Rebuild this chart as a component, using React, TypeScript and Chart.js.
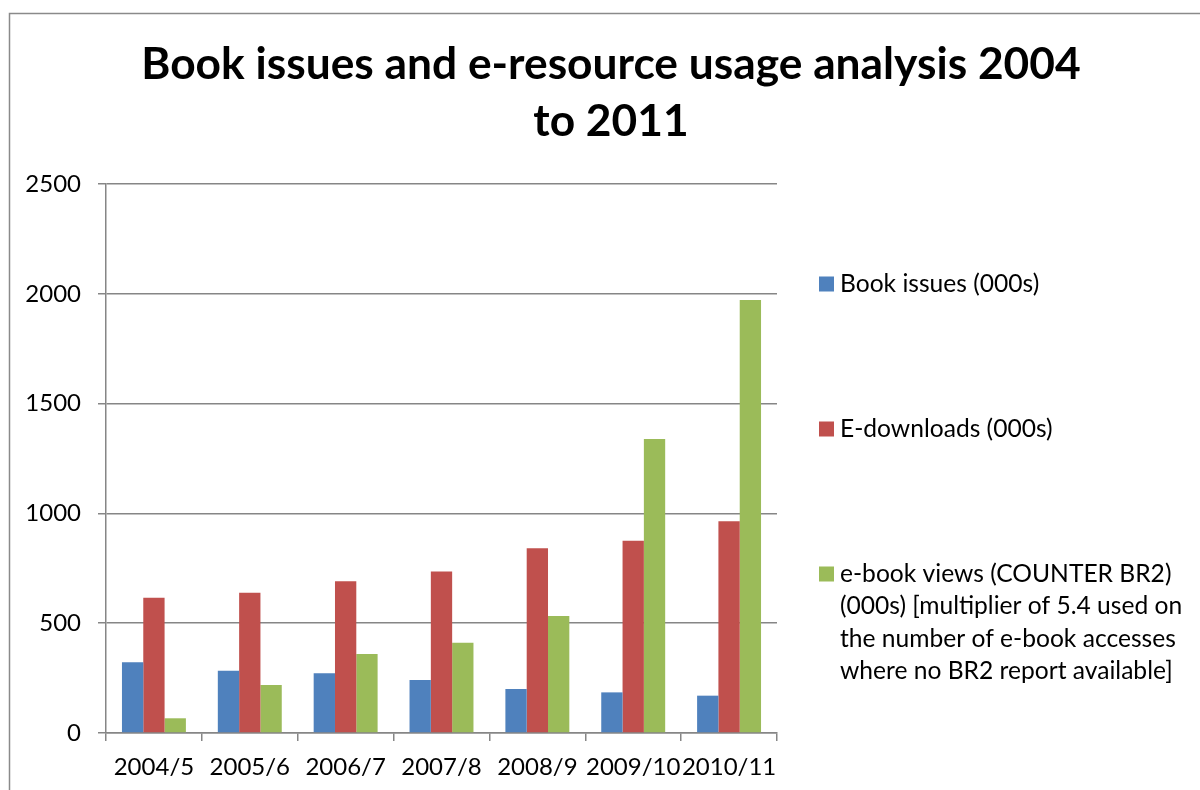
import { useEffect, useRef } from "react";
import { Chart, registerables } from "chart.js";

Chart.register(...registerables);

const CATEGORIES = ["2004/5", "2005/6", "2006/7", "2007/8", "2008/9", "2009/10", "2010/11"];
const BOOK_ISSUES = [322, 284, 272, 241, 200, 185, 170];
const E_DOWNLOADS = [616, 639, 691, 735, 841, 876, 964];
const EBOOK_VIEWS = [67, 219, 360, 411, 533, 1339, 1972];

const TITLE_LINES = ["Book issues and e-resource usage analysis 2004", "to 2011"];
const LEGEND_LINES = [
  ["Book issues (000s)"],
  ["E-downloads (000s)"],
  [
    "e-book views (COUNTER BR2)",
    "(000s) [multiplier of 5.4 used on",
    "the number of e-book accesses",
    "where no BR2 report available]",
  ],
];
const COLORS = ["#4F81BD", "#C0504D", "#9BBB59"];
const Y_MIN = 0;
const Y_MAX = 2500;
const Y_STEP = 500;

const FONT_FAMILY = "Lato, 'Open Sans', sans-serif";
const TICK_FONT_SIZE = 24;
const LEGEND_FONT_SIZE = 24.6;
const GRID_COLOR = "#868686";

const decorPlugin = {
  id: "decor",
  beforeDraw(chart: any) {
    const ctx = chart.ctx as CanvasRenderingContext2D;
    ctx.save();
    ctx.fillStyle = "#ffffff";
    ctx.fillRect(0, 0, chart.width, chart.height);
    ctx.strokeStyle = "#8a8a8a";
    ctx.lineWidth = 1.5;
    ctx.strokeRect(9.5, 13.5, 1400, 1000);
    ctx.restore();
  },
  afterDraw(chart: any) {
    const ctx = chart.ctx as CanvasRenderingContext2D;
    ctx.save();
    // Title
    ctx.fillStyle = "#000000";
    ctx.font = `bold 44.3px ${FONT_FAMILY}`;
    ctx.textAlign = "center";
    ctx.textBaseline = "alphabetic";
    TITLE_LINES.forEach((line, i) => {
      ctx.fillText(line, 611, 79 + i * 57);
    });
    // Legend
    ctx.font = `${LEGEND_FONT_SIZE}px ${FONT_FAMILY}`;
    ctx.textAlign = "left";
    ctx.textBaseline = "middle";
    const datasets = chart.data.datasets;
    datasets.forEach((ds: any, i: number) => {
      const cy = 284 + i * 145;
      ctx.fillStyle = ds.backgroundColor;
      ctx.fillRect(819, cy - 7.5, 15, 15);
      ctx.fillStyle = "#000000";
      LEGEND_LINES[i].forEach((line, j) => {
        ctx.fillText(line, 840, cy + j * 32.5);
      });
    });
    ctx.restore();
  },
};

export default function App() {
  const canvasRef = useRef<HTMLCanvasElement | null>(null);

  useEffect(() => {
    if (!canvasRef.current) return;
    const font = { family: FONT_FAMILY, size: TICK_FONT_SIZE };
    const chart = new Chart(canvasRef.current, {
      type: "bar",
      data: {
        labels: CATEGORIES,
        datasets: [
          { label: LEGEND_LINES[0].join(" "), data: BOOK_ISSUES, backgroundColor: COLORS[0] },
          { label: LEGEND_LINES[1].join(" "), data: E_DOWNLOADS, backgroundColor: COLORS[1] },
          { label: LEGEND_LINES[2].join(" "), data: EBOOK_VIEWS, backgroundColor: COLORS[2] },
        ],
      },
      options: {
        responsive: false,
        animation: false,
        devicePixelRatio: 1,
        layout: { padding: { left: 0, right: 423, top: 184, bottom: 0 } },
        datasets: { bar: { categoryPercentage: 0.667, barPercentage: 1.0 } },
        plugins: {
          legend: { display: false },
          title: { display: false },
          tooltip: { enabled: false },
        },
        scales: {
          x: {
            grid: {
              display: true,
              drawOnChartArea: false,
              drawTicks: true,
              tickLength: 8,
              color: GRID_COLOR,
              offset: true,
              lineWidth: 1.5,
            },
            border: { display: true, color: GRID_COLOR, width: 1.5 },
            ticks: { font, color: "#000000", padding: 12, maxRotation: 0, autoSkip: false },
            afterFit: (s: any) => {
              s.height = 57;
            },
          },
          y: {
            min: Y_MIN,
            max: Y_MAX,
            grid: { color: GRID_COLOR, tickLength: 8, lineWidth: 1.5 },
            border: { display: true, color: GRID_COLOR, width: 1.5 },
            ticks: {
              stepSize: Y_STEP,
              font,
              color: "#000000",
              padding: 17,
              callback: (v: any) => String(v),
            },
            afterFit: (s: any) => {
              s.width = 106;
            },
          },
        },
      },
      plugins: [decorPlugin],
    });
    return () => chart.destroy();
  }, []);

  return (
    <div style={{ position: "absolute", left: 0, top: 0, width: 1200, height: 790 }}>
      <canvas ref={canvasRef} width={1200} height={790} style={{ display: "block" }} />
    </div>
  );
}
